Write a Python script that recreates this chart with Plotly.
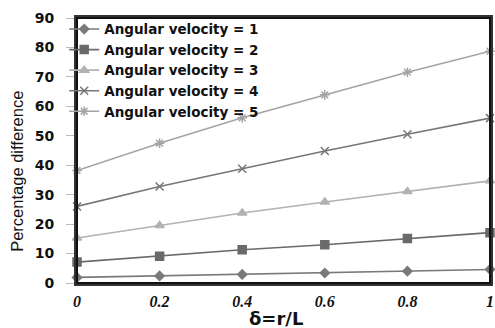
import plotly.graph_objects as go

delta = [0, 0.2, 0.4, 0.6, 0.8, 1.0]
w1 = [1.9, 2.4, 2.9, 3.4, 4.0, 4.6]
w2 = [7.1, 9.1, 11.3, 13.0, 15.1, 17.1]
w3 = [15.3, 19.5, 23.8, 27.5, 31.1, 34.7]
w4 = [26.0, 32.8, 38.8, 44.8, 50.5, 56.0]
w5 = [38.2, 47.5, 56.1, 63.9, 71.6, 78.7]
names = ["Angular velocity = 1", "Angular velocity = 2", "Angular velocity = 3",
         "Angular velocity = 4", "Angular velocity = 5"]
x_ticks = [0, 0.2, 0.4, 0.6, 0.8, 1]
x_tick_text = ["0", "0.2", "0.4", "0.6", "0.8", "1"]
y_ticks = [0, 10, 20, 30, 40, 50, 60, 70, 80, 90]

series = [w1, w2, w3, w4, w5]
colors = ["#7a7a7a", "#6a6a6a", "#b2b2b2", "#767676", "#a4a4a4"]
symbols = ["diamond", "square", "triangle-up", "x-thin-open", "asterisk-open"]
sizes = [7, 8, 8, 8, 8]

fig = go.Figure()
for ys, nm, c, s, sz in zip(series, names, colors, symbols, sizes):
    fig.add_trace(go.Scatter(
        x=delta, y=ys, name=nm, mode="lines+markers",
        line=dict(color=c, width=1.6),
        marker=dict(symbol=s, size=sz, color=c, line=dict(color=c, width=1.5)),
        cliponaxis=False,
    ))

fig.update_layout(
    width=495, height=328,
    margin=dict(l=77, r=5, t=18, b=45, autoexpand=False),
    paper_bgcolor="white", plot_bgcolor="white",
    showlegend=True,
    legend=dict(
        x=-0.031, y=1.016, xanchor="left", yanchor="top",
        bgcolor="rgba(0,0,0,0)", borderwidth=0,
        font=dict(family="DejaVu Sans", size=13.5, color="#111111", weight="bold"),
        itemwidth=30, tracegroupgap=0,
    ),
    xaxis=dict(
        range=[0, 1], tickvals=x_ticks, ticktext=x_tick_text,
        showgrid=False, zeroline=False,
        showline=True, linecolor="#333333", linewidth=3, mirror=True,
        ticks="", ticklabelstandoff=2, ticklabeloverflow="allow",
        tickfont=dict(family="Liberation Serif", size=16, color="#111111",
                      weight="bold", style="italic"),
    ),
    yaxis=dict(
        range=[0, 90], tickvals=y_ticks,
        showgrid=False, zeroline=False,
        showline=True, linecolor="#333333", linewidth=3, mirror=True,
        ticks="outside", ticklen=8, tickcolor="#bbbbbb", tickwidth=1,
        ticklabelstandoff=9,
        tickfont=dict(family="DejaVu Sans", size=14, color="#111111", weight="bold"),
    ),
    xaxis2=dict(overlaying="x", matches="x", side="top", anchor="y",
                showline=True, linecolor="#111111", linewidth=2,
                showticklabels=False, ticks="", showgrid=False, zeroline=False),
    yaxis2=dict(overlaying="y", matches="y", side="right", anchor="x",
                showline=True, linecolor="#111111", linewidth=2,
                showticklabels=False, ticks="", showgrid=False, zeroline=False),
    annotations=[
        dict(text="Percentage difference", textangle=-90, showarrow=False,
             xref="paper", yref="paper", x=-0.145, y=0.42,
             xanchor="center", yanchor="middle",
             font=dict(family="Liberation Sans", size=16.5, color="#111111")),
        dict(text="δ=r/L", showarrow=False,
             xref="paper", yref="paper", x=0.482, y=-0.135,
             xanchor="center", yanchor="middle",
             font=dict(family="DejaVu Sans", size=18, color="#111111", weight="bold")),
    ],
)
fig.add_shape(type="rect", xref="paper", yref="paper", x0=0, x1=1, y0=0, y1=1,
              line=dict(color="#111111", width=2), fillcolor="rgba(0,0,0,0)",
              layer="above")

fig.write_html("out.html", config={"displayModeBar": False},
               post_script="document.body.style.margin='0';")
